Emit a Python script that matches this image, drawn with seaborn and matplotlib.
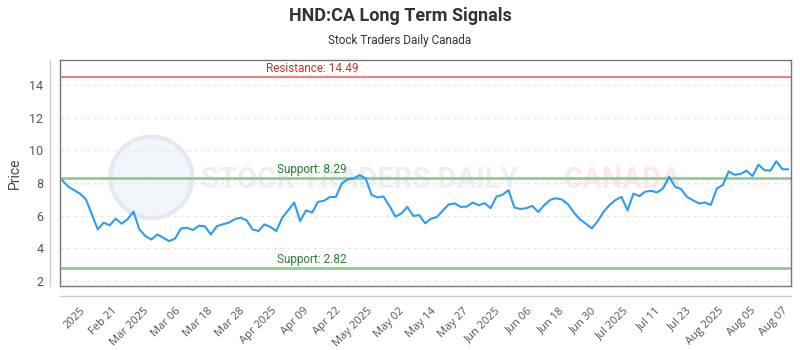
import numpy as np
import pandas as pd
import matplotlib
matplotlib.use("Agg")
import matplotlib.pyplot as plt
from matplotlib.patches import Ellipse
from matplotlib.lines import Line2D
import seaborn as sns

#closing prices (one per trading day)
prices = [8.19, 7.80, 7.57, 7.36, 7.01, 6.09, 5.16, 5.57, 5.41, 5.82,
          5.51, 5.78, 6.25, 5.16, 4.75, 4.54, 4.85, 4.65, 4.44, 4.60,
          5.22, 5.26, 5.12, 5.39, 5.35, 4.85, 5.35, 5.47, 5.57, 5.78,
          5.88, 5.72, 5.16, 5.06, 5.47, 5.31, 5.06, 5.88, 6.33, 6.81,
          5.67, 6.33, 6.19, 6.85, 6.91, 7.15, 7.15, 7.98, 8.23, 8.29,
          8.49, 8.29, 7.28, 7.12, 7.18, 6.60, 5.94, 6.13, 6.54, 5.98,
          6.04, 5.53, 5.82, 5.92, 6.33, 6.70, 6.75, 6.54, 6.56, 6.81,
          6.64, 6.77, 6.46, 7.18, 7.28, 7.57, 6.50, 6.41, 6.46, 6.60,
          6.23, 6.64, 6.97, 7.07, 6.99, 6.70, 6.19, 5.78, 5.51, 5.22,
          5.67, 6.25, 6.66, 6.97, 7.15, 6.33, 7.36, 7.20, 7.48, 7.52,
          7.43, 7.69, 8.39, 7.77, 7.63, 7.15, 6.95, 6.75, 6.81, 6.66,
          7.67, 7.88, 8.72, 8.51, 8.56, 8.76, 8.43, 9.13, 8.80, 8.76,
          9.34, 8.85, 8.85]

#x axis labels as shown on the chart
tickLabels = ["2025", "Feb 21", "Mar 2025", "Mar 06", "Mar 18", "Mar 28",
              "Apr 2025", "Apr 09", "Apr 22", "May 2025", "May 02", "May 14",
              "May 27", "Jun 2025", "Jun 06", "Jun 18", "Jun 30", "Jul 2025",
              "Jul 11", "Jul 23", "Aug 2025", "Aug 05", "Aug 07"]

#signal levels
resistance = 14.49
supportHigh = 8.29
supportLow = 2.82

data = pd.DataFrame({"day": np.arange(len(prices)), "price": prices})

sns.set_style("white")
plt.rcParams["font.family"] = ["Roboto", "DejaVu Sans"]

fig = plt.figure(figsize=(8, 3.5), dpi=100)
ax = fig.add_axes([0.075, 0.183, 0.914, 0.646])

#watermark in the background
ax.add_patch(Ellipse((0.125, 0.48), 0.112, 0.36, transform=ax.transAxes, facecolor="#f2f5fa",
                     edgecolor="#e4e9f2", lw=3, zorder=0))
ax.text(0.41, 0.47, "STOCK TRADERS DAILY", transform=ax.transAxes, ha="center", va="center",
        fontsize=21, color="#eceff5", fontweight="bold", zorder=0)
ax.text(0.77, 0.47, "CANADA", transform=ax.transAxes, ha="center", va="center",
        fontsize=21, color="#fde8e8", fontweight="bold", zorder=0)

#dashed grid lines
for y in range(2, 16, 2):
    ax.axhline(y, color="#e6e6e6", lw=0.8, ls=(0, (3, 3)), zorder=1)

#signal lines with their labels
ax.axhline(resistance, color="#f08080", lw=1.5, zorder=2)
ax.axhline(supportHigh, color="#8fcc8f", lw=2, zorder=2)
ax.axhline(supportLow, color="#8fcc8f", lw=2, zorder=2)
ax.text(0.345, resistance + 0.12, f"Resistance: {resistance}", transform=ax.get_yaxis_transform(),
        ha="center", va="bottom", fontsize=8.5, color="#c0392b")
ax.text(0.345, supportHigh + 0.12, f"Support: {supportHigh}", transform=ax.get_yaxis_transform(),
        ha="center", va="bottom", fontsize=8.5, color="#2e7d32")
ax.text(0.345, supportLow + 0.12, f"Support: {supportLow}", transform=ax.get_yaxis_transform(),
        ha="center", va="bottom", fontsize=8.5, color="#2e7d32")

#price line
sns.lineplot(data=data, x="day", y="price", color="#2f9bf5", lw=1.5, ax=ax, zorder=3)

ax.set_xlim(-0.34, 122.5)
ax.set_ylim(1.69, 15.56)
ax.set_yticks(range(2, 16, 2))
ax.set_xticks(np.linspace(3, 121, len(tickLabels)))
ax.set_xticklabels(tickLabels)
plt.setp(ax.get_xticklabels(), rotation=45, ha="right", rotation_mode="anchor",
         fontsize=8, color="#555555", family=["Open Sans", "DejaVu Sans"])
ax.tick_params(axis="y", labelsize=9, colors="#555555", length=0, pad=12)
ax.tick_params(axis="x", length=0, pad=14)
ax.set_xlabel("")
ax.set_ylabel("Price", fontsize=10, color="#444444", labelpad=5)

#frame around the plot area
for side in ["top", "right", "left", "bottom"]:
    ax.spines[side].set_visible(True)
    ax.spines[side].set_color("#777777")
    ax.spines[side].set_linewidth(1)

#axis lines sitting outside the frame
fig.add_artist(Line2D([0.0625, 0.0625], [0.183, 0.829], color="#cccccc", lw=1))
fig.add_artist(Line2D([0.075, 0.989], [0.154, 0.154], color="#cccccc", lw=1))

fig.text(0.5, 0.955, "HND:CA Long Term Signals", ha="center", va="center",
         fontsize=13, fontweight="bold", color="#333333")
fig.text(0.5, 0.885, "Stock Traders Daily Canada", ha="center", va="center",
         fontsize=8.5, color="#333333")

fig.savefig("out.png", dpi=100)
